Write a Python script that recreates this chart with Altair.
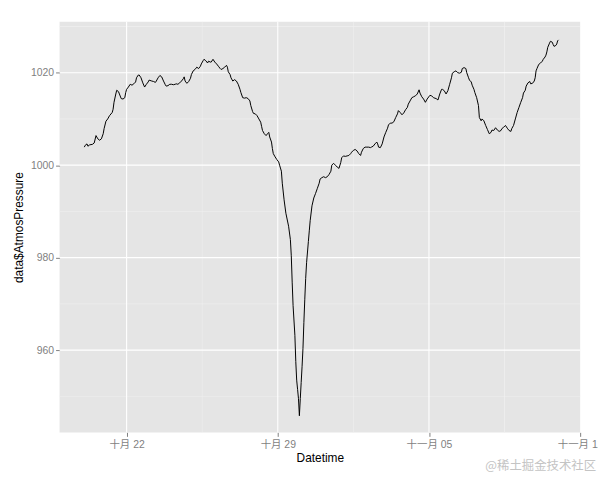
import altair as alt
import pandas as pd

# hours after 2012-10-20 00:00 and the pressure read at that hour
hours = [1, 2, 4, 5, 7, 10, 12, 14, 16, 18, 20, 22, 23, 25, 27, 29, 32, 33, 34, 36,
         37, 39, 40, 42, 44, 46, 47, 48, 50, 52, 54, 56, 58, 59, 61, 62, 64, 66, 68, 70,
         72, 73, 76, 78, 80, 81, 83, 85, 87, 89, 91, 92, 94, 96, 98, 100, 102, 103, 105, 107,
         109, 111, 112, 113, 115, 117, 119, 120, 122, 124, 126, 128, 130, 131, 133, 134, 136, 138, 139, 141,
         142, 144, 146, 148, 150, 152, 153, 155, 157, 159, 160, 161, 163, 164, 166, 168, 170, 172, 174, 175,
         177, 179, 181, 183, 185, 186, 188, 189, 191, 193, 195, 197, 198, 199, 201, 203, 205, 206, 207, 209,
         210, 211, 213, 215, 217, 218, 220, 221, 223, 225, 228, 230, 231, 232, 233, 235, 236, 237, 238, 239,
         240, 241, 242, 243, 244, 245, 246, 247, 248, 250, 251, 252, 254, 256, 258, 260, 262, 263, 265, 267,
         269, 271, 273, 275, 276, 278, 280, 282, 284, 286, 287, 289, 291, 293, 295, 297, 298, 300, 302, 304,
         306, 308, 309, 311, 313, 315, 317, 319, 320, 322, 324, 326, 327, 328, 330, 332, 334, 336, 338, 339,
         341, 343, 345, 347, 349, 350, 352, 354, 356, 358, 360, 361, 363, 365, 367, 369, 371, 373, 374, 376,
         378, 380, 382, 385, 387, 389, 392, 394, 396, 398, 399, 401, 403, 405, 407, 409, 410, 412, 414, 416,
         418, 420, 421, 423, 425, 426, 428, 429, 431, 432, 434, 435, 437, 439, 440, 442, 443, 445, 447, 449,
         451, 453, 454, 456, 458, 460, 462, 464, 465, 467, 469, 471, 473, 475, 476, 478, 480, 482, 484, 486,
         488, 489, 491, 492, 494, 496, 497, 499, 501, 502, 503, 504, 506, 508, 510, 511, 513, 514, 515, 516,
         518, 519, 521, 522, 523, 525, 526, 527, 528]

pressure = [1003.9, 1004.3, 1004.6, 1004.1, 1004.4, 1004.5, 1004.8, 1006.4, 1005.7, 1005.4, 1005.7, 1006.8, 1007.9, 1009.5, 1010.0, 1010.7, 1011.4, 1012.1, 1013.6, 1015.4,
            1016.2, 1015.9, 1015.4, 1014.4, 1014.3, 1014.6, 1015.7, 1016.4, 1016.9, 1017.5, 1017.3, 1017.6, 1018.0, 1018.9, 1019.5, 1019.5, 1018.9, 1017.8, 1016.9, 1017.5,
            1018.0, 1018.4, 1018.2, 1018.1, 1017.9, 1018.2, 1018.9, 1019.4, 1019.1, 1018.2, 1017.4, 1017.1, 1017.2, 1017.5, 1017.5, 1017.4, 1017.5, 1017.6, 1017.5, 1017.8,
            1018.2, 1018.7, 1019.1, 1018.2, 1017.7, 1018.1, 1018.8, 1019.6, 1020.4, 1020.7, 1021.2, 1020.9, 1021.4, 1021.9, 1022.6, 1022.9, 1022.6, 1022.1, 1022.5, 1022.3,
            1022.3, 1022.9, 1022.3, 1021.9, 1021.4, 1020.9, 1020.7, 1020.9, 1021.2, 1021.6, 1021.2, 1020.2, 1019.6, 1018.9, 1018.2, 1018.5, 1018.2, 1017.5, 1016.4, 1015.7,
            1014.6, 1014.5, 1014.6, 1014.4, 1013.9, 1012.9, 1011.6, 1011.2, 1011.1, 1010.7, 1010.0, 1009.3, 1008.4, 1007.5, 1006.8, 1006.4, 1006.9, 1007.1, 1006.1, 1005.0,
            1003.6, 1002.5, 1001.8, 1001.2, 1000.7, 1000.0, 998.7, 996.1, 992.5, 989.6, 986.8, 983.9, 980.4, 974.7, 969.6, 963.2, 957.5, 953.5, 951.5, 949.5,
            945.8, 949.5, 953.0, 956.5, 960.4, 966.0, 971.0, 975.5, 978.9, 983.5, 985.8, 988.0, 991.2, 992.9, 993.9, 995.0, 996.1, 997.0, 997.3, 997.5,
            997.3, 997.5, 998.0, 998.7, 1000.0, 1000.4, 1000.0, 999.6, 999.3, 1000.6, 1001.6, 1002.0, 1001.9, 1002.0, 1002.1, 1002.5, 1002.8, 1003.2, 1003.4, 1003.1,
            1002.5, 1002.1, 1002.8, 1003.6, 1003.9, 1003.9, 1003.9, 1003.8, 1003.9, 1004.1, 1004.6, 1005.0, 1004.6, 1003.9, 1003.8, 1004.6, 1006.1, 1007.1, 1008.0, 1008.7,
            1009.1, 1009.1, 1009.4, 1010.3, 1011.1, 1011.8, 1011.4, 1010.9, 1011.3, 1012.0, 1012.5, 1013.2, 1013.9, 1014.6, 1014.8, 1015.0, 1015.4, 1016.3, 1015.6, 1014.8,
            1014.3, 1013.6, 1014.3, 1015.1, 1015.0, 1014.6, 1014.4, 1014.1, 1015.4, 1016.4, 1016.4, 1016.1, 1015.4, 1016.1, 1017.5, 1018.9, 1019.9, 1020.2, 1020.4, 1020.0,
            1019.9, 1020.1, 1020.9, 1021.1, 1020.9, 1020.0, 1018.9, 1018.4, 1018.0, 1017.3, 1016.4, 1015.7, 1014.6, 1012.9, 1010.3, 1009.6, 1010.0, 1009.6, 1008.6, 1007.7,
            1006.8, 1007.1, 1007.6, 1007.5, 1008.1, 1007.6, 1007.3, 1007.5, 1007.9, 1008.2, 1008.6, 1008.0, 1007.5, 1007.3, 1007.9, 1008.6, 1010.0, 1011.4, 1012.5, 1013.6,
            1014.6, 1015.6, 1016.2, 1017.1, 1017.8, 1018.1, 1017.6, 1017.7, 1018.2, 1018.9, 1020.4, 1020.9, 1021.8, 1022.1, 1022.5, 1022.9, 1023.4, 1023.8, 1024.5, 1025.5,
            1026.4, 1026.8, 1026.6, 1026.1, 1025.7, 1025.9, 1026.2, 1026.9, 1027.1]

x_major = ["2012-10-22T00:00:00", "2012-10-29T00:00:00", "2012-11-05T00:00:00", "2012-11-12T00:00:00"]
x_minor = ["2012-10-25T12:00:00", "2012-11-01T12:00:00", "2012-11-08T12:00:00"]
y_major = [960, 980, 1000, 1020]
y_minor = [950, 970, 990, 1010, 1030]
x_range = ["2012-10-18T21:30:00", "2012-11-12T00:00:00"]
y_range = [942.2, 1031.0]
watermark = ["@稀土掘金技术社区"]

start = pd.Timestamp("2012-10-20 00:00:00")
df = pd.DataFrame({
    "Datetime": [(start + pd.Timedelta(hours=h)).strftime("%Y-%m-%dT%H:%M:%S") for h in hours],
    "AtmosPressure": pressure,
})


def to_dt(s):
    t = pd.Timestamp(s)
    return alt.DateTime(year=t.year, month=t.month, date=t.day, hours=t.hour, minutes=t.minute)


x_scale = alt.Scale(domain=[to_dt(s) for s in x_range])
y_scale = alt.Scale(domain=y_range, nice=False, zero=False)

FONT = "Liberation Sans, Arial, Noto Sans CJK SC, sans-serif"
GREY = "#7F7F7F"

x_axis = alt.Axis(
    values=[to_dt(s) for s in x_major],
    labelExpr="(month(datum.value) == 9 ? '十月 ' : '十一月 ') + timeFormat(datum.value, '%d')",
    title="Datetime", grid=False, domain=False,
    tickColor=GREY, tickSize=4, tickWidth=1,
    labelColor=GREY, labelFontSize=10.5, labelFont=FONT, labelPadding=3,
    labelFlush=False, labelOverlap=False, labelBound=False,
    titleFont=FONT, titleFontSize=12, titleFontWeight="normal", titleColor="black", titlePadding=3,
)
y_axis = alt.Axis(
    values=y_major, format="d", title="data$AtmosPressure", grid=False, domain=False,
    tickColor=GREY, tickSize=4, tickWidth=1,
    labelColor=GREY, labelFontSize=10.5, labelFont=FONT, labelPadding=2,
    titleFont=FONT, titleFontSize=12, titleFontWeight="normal", titleColor="black", titlePadding=5,
)

X = alt.X("Datetime:T", scale=x_scale, axis=x_axis)
Y = alt.Y("AtmosPressure:Q", scale=y_scale, axis=y_axis)

minor_y = alt.Chart(pd.DataFrame({"AtmosPressure": y_minor})).mark_rule(
    color="#F2F2F2", strokeWidth=0.6).encode(y=Y)
minor_x = alt.Chart(pd.DataFrame({"Datetime": x_minor})).mark_rule(
    color="#F2F2F2", strokeWidth=0.6).encode(x=X)
major_y = alt.Chart(pd.DataFrame({"AtmosPressure": y_major})).mark_rule(
    color="white", strokeWidth=1.1).encode(y=Y)
major_x = alt.Chart(pd.DataFrame({"Datetime": x_major[:3]})).mark_rule(
    color="white", strokeWidth=1.1).encode(x=X)

line = alt.Chart(df).mark_line(color="black", strokeWidth=1).encode(x=X, y=Y)

wm = alt.Chart(pd.DataFrame({"w": watermark})).mark_text(
    align="right", baseline="middle", fontSize=12.5, color="#C4C4C4",
    font="Noto Sans CJK SC",
).encode(x=alt.value(541), y=alt.value(448), text="w:N")

chart = alt.layer(minor_y, minor_x, major_y, major_x, line, wm).properties(
    width=525, height=414,
    autosize=alt.AutoSizeParams(type="none"),
    padding={"left": 52, "top": 12, "right": 18, "bottom": 40},
    background="white",
).configure_view(fill="#E5E5E5", strokeWidth=0)

chart.save("out.html", embed_options={"renderer": "svg", "actions": False})
